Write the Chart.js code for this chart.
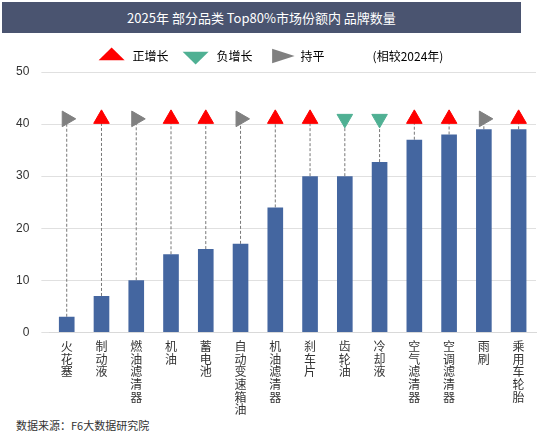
<!DOCTYPE html>
<html><head><meta charset="utf-8">
<script src="https://cdn.jsdelivr.net/npm/chart.js@4"></script>
<style>
body{margin:0;width:554px;height:438px;background:#fff;font-family:"Noto Sans CJK SC","Noto Sans",sans-serif;overflow:hidden}
#title{position:absolute;left:2px;top:2px;width:519px;height:31px;background:#4a5470;color:#fff;font-size:13px;line-height:31px;text-align:center}
#wrap{position:absolute;left:0;top:38px;width:554px;height:378px}
#foot{position:absolute;left:16px;top:417px;font-size:11px;color:#333}
</style></head><body>
<div id="title">2025年 部分品类 Top80%市场份额内 品牌数量</div>
<div id="wrap"><canvas id="c"></canvas></div>
<div id="foot">数据来源：F6大数据研究院</div>
<script>
var categories = ['火花塞','制动液','燃油滤清器','机油','蓄电池','自动变速箱油','机油滤清器','刹车片','齿轮油','冷却液','空气滤清器','空调滤清器','雨刷','乘用车轮胎']
var brand_count = [3, 7, 10, 15, 16, 17, 24, 30, 30, 32.7, 37, 38, 39, 39]
// 上 = 正增长, 下 = 负增长, 平 = 持平
var trend = ['平','上','平','上','上','平','上','上','下','下','上','上','平','上']
var marker_y = 41

function pontos(tipo){
    return trend.map(function(t){ return t == tipo ? marker_y : null })
}

var linhas = {
    id: 'linhas',
    beforeDatasetsDraw: function(chart){
        var ctx = chart.ctx
        var x = chart.scales.x, y = chart.scales.y
        ctx.save()
        ctx.strokeStyle = '#777'
        ctx.lineWidth = 1
        ctx.setLineDash([3, 2])
        categories.forEach(function(c, i){
            var px = x.getPixelForValue(i)
            ctx.beginPath()
            ctx.moveTo(px, y.getPixelForValue(brand_count[i]))
            ctx.lineTo(px, y.getPixelForValue(marker_y))
            ctx.stroke()
        })
        ctx.restore()
    }
}

function marcador(label, cor, rot, tipo){
    return {type: 'line', label: label, data: pontos(tipo), showLine: false, pointStyle: 'triangle', rotation: rot,
            backgroundColor: cor, borderColor: cor, pointRadius: 9, pointHoverRadius: 9, order: 0}
}

new Chart(document.getElementById('c'), {
    data: {
        labels: categories.map(function(c){ return c.split('') }),
        datasets: [
            marcador('正增长', '#ff0000', 0, '上'),
            marcador('负增长', '#4fb093', 180, '下'),
            marcador('持平', '#808080', 90, '平'),
            {type: 'bar', label: '(相较2024年)', data: brand_count, backgroundColor: '#4466a0', barPercentage: 0.45, categoryPercentage: 1, order: 1}
        ]
    },
    options: {
        responsive: true,
        maintainAspectRatio: false,
        animation: false,
        layout: {padding: {left: 4, right: 18, top: 0, bottom: 0}},
        plugins: {
            legend: {
                labels: {
                    font: {size: 12, family: 'Noto Sans CJK SC'}, color: '#333', padding: 12,
                    generateLabels: function(chart){
                        var cores = ['#ff0000', '#4fb093', '#808080']
                        var rot = [0, 180, 90]
                        return ['正增长', '负增长', '持平', '(相较2024年)'].map(function(t, i){
                            return {text: t, fillStyle: cores[i] || 'rgba(0,0,0,0)', strokeStyle: cores[i] || 'rgba(0,0,0,0)',
                                    pointStyle: i < 3 ? 'triangle' : 'line', rotation: rot[i] || 0, lineWidth: 0, datasetIndex: i}
                        })
                    },
                    usePointStyle: true, pointStyleWidth: 30, boxHeight: 18
                }
            },
            tooltip: {enabled: false}
        },
        scales: {
            x: {
                offset: true,
                grid: {display: false},
                border: {color: '#d9d9d9'},
                ticks: {font: {size: 12, family: 'Noto Sans CJK SC', lineHeight: 1.05}, color: '#333', maxRotation: 0, autoSkip: false, padding: 0}
            },
            y: {
                min: 0, max: 50,
                ticks: {stepSize: 10, font: {size: 12}, color: '#333', padding: 12},
                grid: {color: '#e0e0e0'},
                border: {display: false}
            }
        }
    },
    plugins: [linhas]
})
</script>
</body></html>
